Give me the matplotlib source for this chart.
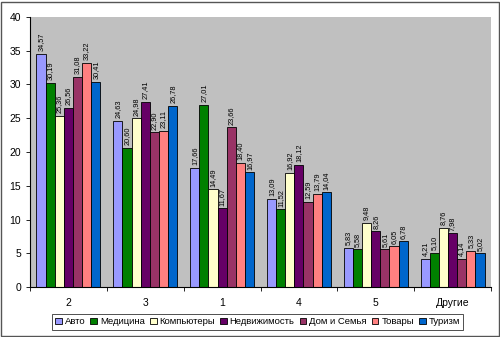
import numpy as np
import matplotlib
matplotlib.use("Agg")
import matplotlib.pyplot as plt
from matplotlib.patches import Rectangle

plt.rcParams['font.family'] = ['Liberation Sans', 'DejaVu Sans']

categories = ['2', '3', '1', '4', '5', 'Другие']
series = ['Авто', 'Медицина', 'Компьютеры', 'Недвижимость', 'Дом и Семья', 'Товары', 'Туризм']
colors = ['#9999FF', '#008000', '#FFFFCC', '#660066', '#993366', '#FF8080', '#0066CC']

avto = [34.57, 24.63, 17.66, 13.09, 5.83, 4.21]
medicina = [30.19, 20.60, 27.01, 11.52, 5.58, 5.10]
kompyutery = [25.36, 24.98, 14.49, 16.92, 9.48, 8.76]
nedvizh = [26.56, 27.41, 11.67, 18.12, 8.26, 7.98]
dom = [31.08, 22.90, 23.66, 12.59, 5.61, 4.14]
tovary = [33.22, 23.11, 18.40, 13.79, 6.05, 5.33]
turizm = [30.41, 26.78, 16.97, 14.04, 6.78, 5.02]
values = [avto, medicina, kompyutery, nedvizh, dom, tovary, turizm]

fig = plt.figure(figsize=(5.0, 3.37), dpi=100)
fig.patches.append(Rectangle((0.002, 0.003), 0.995, 0.992, transform=fig.transFigure,
                             fill=False, edgecolor='#555555', linewidth=1.0))
ax = fig.add_axes([0.060, 0.148, 0.922, 0.802])
ax.set_facecolor('#C0C0C0')

x = np.arange(len(categories))
w = 0.119
n = len(series)
for i, (name, vals, c) in enumerate(zip(series, values, colors)):
    pos = x - w * (n - 1) / 2 + i * w
    bars = ax.bar(pos, vals, width=w, color=c, edgecolor='black', linewidth=0.6, label=name)
    for b, v in zip(bars, vals):
        ax.text(b.get_x() + b.get_width() / 2, v + 0.4, f'{v:.2f}'.replace('.', ','),
                rotation=90, ha='center', va='bottom', fontsize=5.3)

ax.set_xlim(-0.5, len(categories) - 0.5)
ax.set_ylim(0, 40)
ax.set_yticks(range(0, 41, 5))
ax.tick_params(axis='y', labelsize=7.5, length=3, width=0.6)
ax.set_xticks(x)
ax.set_xticklabels(categories, fontsize=7.5)
ax.tick_params(axis='x', length=0, pad=8)
ax.set_xticks(np.arange(len(categories) + 1) - 0.5, minor=True)
ax.tick_params(axis='x', which='minor', length=3, width=0.6)
for side in ['top', 'right']:
    ax.spines[side].set_visible(False)
ax.spines['left'].set_linewidth(0.8)
ax.spines['bottom'].set_linewidth(0.8)

leg = fig.legend(loc='center', bbox_to_anchor=(0.515, 0.045), ncol=7, fontsize=6.8,
                 frameon=True, fancybox=False, edgecolor='black', handlelength=0.7,
                 handleheight=0.7, handletextpad=0.3, columnspacing=0.55, borderpad=0.35)
leg.get_frame().set_linewidth(0.6)

fig.savefig('out.png', dpi=100)
